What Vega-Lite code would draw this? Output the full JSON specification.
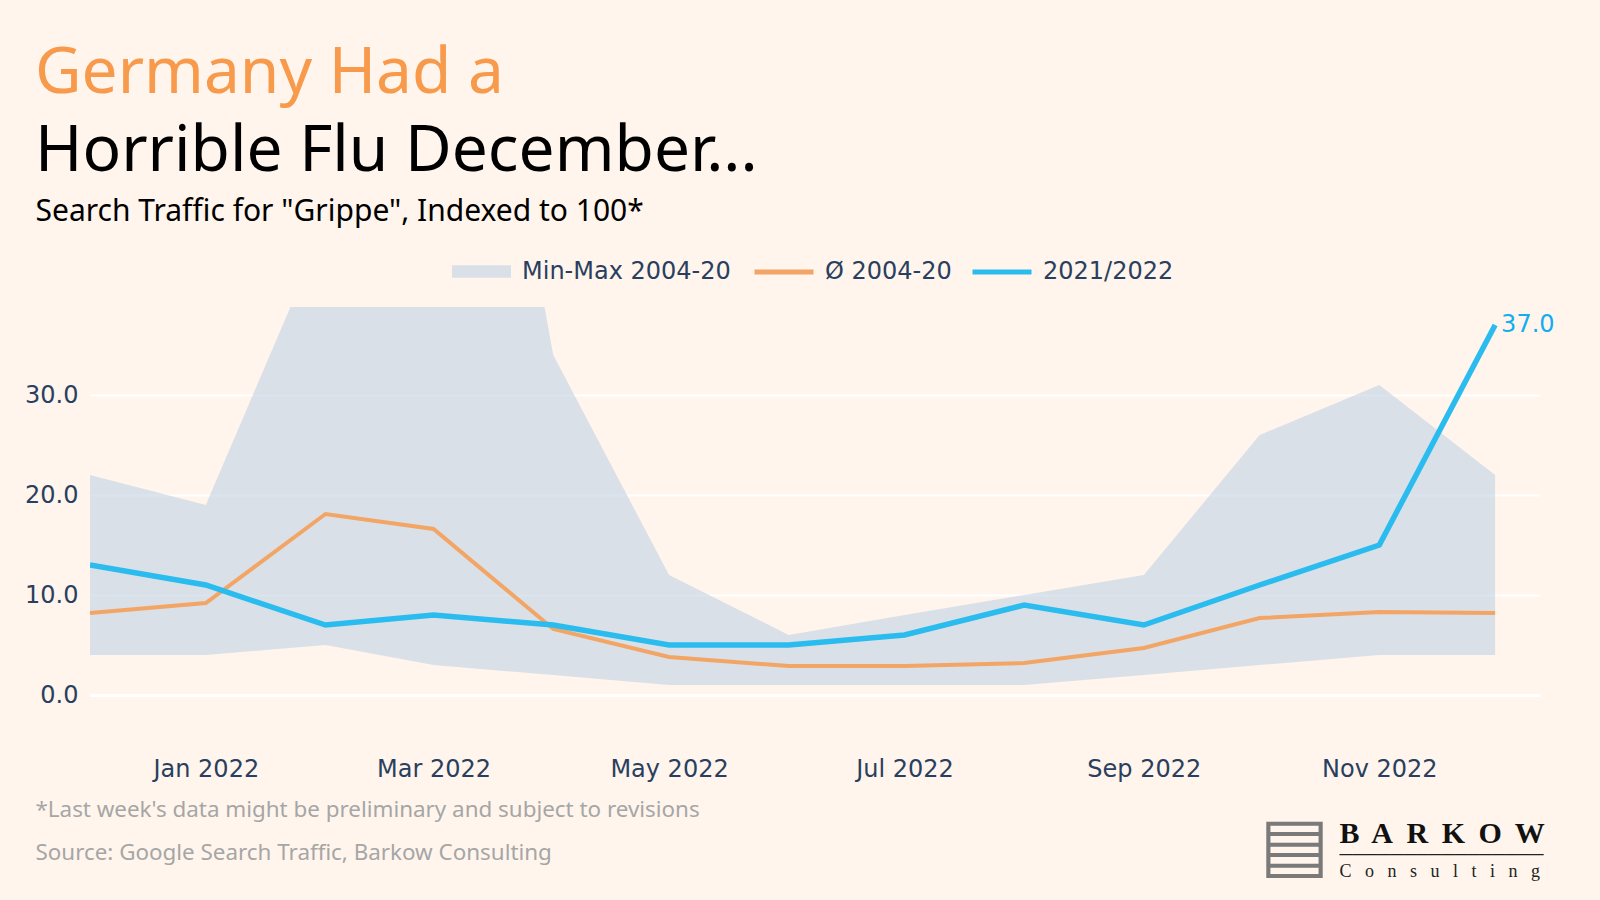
{
  "$schema": "https://vega.github.io/schema/vega-lite/v6.json",
  "width": 1450,
  "height": 438,
  "autosize": {"type": "none"},
  "padding": {"left": 90, "top": 307, "right": 60, "bottom": 155},
  "background": "#fff5ec",
  "config": {
    "view": {"stroke": null},
    "axis": {"domain": false, "ticks": false, "tickSize": 0}
  },
  "title": {
    "text": "Germany Had a",
    "subtitle": "Horrible Flu December...",
    "anchor": "start",
    "frame": "group",
    "orient": "top",
    "font": "Noto Sans",
    "fontSize": 64,
    "fontWeight": 400,
    "color": "#f79a4b",
    "subtitleFont": "Noto Sans",
    "subtitleFontSize": 64,
    "subtitleFontWeight": 400,
    "subtitleColor": "#000000",
    "subtitlePadding": 14,
    "dx": -55,
    "offset": 12
  },
  "data": {
    "values": [
      {"date": "2021-12-02", "min": 4, "max": 22, "avg": 8.2, "cur": 13},
      {"date": "2022-01-01", "min": 4, "max": 19, "avg": 9.2, "cur": 11},
      {"date": "2022-02-01", "min": 5, "max": 47, "avg": 18.1, "cur": 7},
      {"date": "2022-03-01", "min": 3, "max": 100, "avg": 16.6, "cur": 8},
      {"date": "2022-04-01", "min": 2, "max": 34, "avg": 6.6, "cur": 7},
      {"date": "2022-05-01", "min": 1, "max": 12, "avg": 3.8, "cur": 5},
      {"date": "2022-06-01", "min": 1, "max": 6, "avg": 2.9, "cur": 5},
      {"date": "2022-07-01", "min": 1, "max": 8, "avg": 2.9, "cur": 6},
      {"date": "2022-08-01", "min": 1, "max": 10, "avg": 3.2, "cur": 9},
      {"date": "2022-09-01", "min": 2, "max": 12, "avg": 4.7, "cur": 7},
      {"date": "2022-10-01", "min": 3, "max": 26, "avg": 7.7, "cur": 11},
      {"date": "2022-11-01", "min": 4, "max": 31, "avg": 8.3, "cur": 15},
      {"date": "2022-12-01", "min": 4, "max": 22, "avg": 8.2, "cur": 37}
    ]
  },
  "layer": [
    {
      "layer": [
        {
          "mark": {"type": "area", "clip": true, "opacity": 0.6},
          "encoding": {
            "x": {
              "field": "date", "type": "temporal",
              "scale": {"type": "utc", "domain": [1638403200000, 1670857200000]},
              "axis": {
                "orient": "bottom",
                "values": [1640995200000, 1646092800000, 1651363200000, 1656633600000, 1661990400000, 1667260800000],
                "labelExpr": "utcFormat(datum.value, '%b %Y')",
                "labelFont": "DejaVu Sans", "labelFontSize": 24, "labelColor": "#2a3f5f",
                "labelPadding": 12, "grid": false,
                "title": ["*Last week's data might be preliminary and subject to revisions", "Source: Google Search Traffic, Barkow Consulting"],
                "titleFont": "Noto Sans", "titleFontSize": 22.4, "titleFontWeight": 400, "titleColor": "#a6a6a6",
                "titleAnchor": "start", "titleAlign": "left", "titleBaseline": "alphabetic",
                "titleX": -55, "titleY": 71, "titleLineHeight": 43.5
              }
            },
            "y": {
              "field": "min", "type": "quantitative",
              "title": "Search Traffic for \"Grippe\", Indexed to 100*",
              "scale": {"domain": [-5, 38.8], "nice": false, "zero": false},
              "axis": {
                "values": [0, 10, 20, 30], "format": ".1f",
                "labelFont": "DejaVu Sans", "labelFontSize": 24, "labelColor": "#2a3f5f", "labelPadding": 12,
                "grid": true, "gridColor": "#ffffff", "gridOpacity": 1,
                "gridWidth": {"condition": {"test": "datum.value === 0", "value": 3}, "value": 2},
                "titleAngle": 0, "titleAlign": "left", "titleBaseline": "alphabetic",
                "titleX": -55, "titleY": -87,
                "titleFont": "Noto Sans", "titleFontSize": 30, "titleFontWeight": 400, "titleColor": "#000000"
              }
            },
            "y2": {"field": "max"},
            "fill": {
              "datum": "Min-Max 2004-20",
              "scale": {"domain": ["Min-Max 2004-20"], "range": ["#c2d2e5"]},
              "legend": {
                "orient": "none", "direction": "horizontal",
                "legendX": 362, "legendY": -65,
                "title": null,
                "symbolSize": 3481, "symbolType": "M-1,-0.21H1V0.21H-1Z",
                "symbolStrokeWidth": 0, "symbolOpacity": 0.6,
                "labelFont": "DejaVu Sans", "labelFontSize": 24, "labelColor": "#2a3f5f",
                "labelOffset": 11, "labelLimit": 0
              }
            }
          }
        },
        {
          "mark": {"type": "line", "strokeWidth": 4, "clip": true},
          "encoding": {
            "x": {"field": "date", "type": "temporal"},
            "y": {"field": "avg", "type": "quantitative", "title": "Search Traffic for \"Grippe\", Indexed to 100*"},
            "stroke": {
              "datum": "Ø 2004-20",
              "scale": {"domain": ["Ø 2004-20", "2021/2022"], "range": ["#f3a566", "#2bbcef"]},
              "legend": {
                "orient": "none", "direction": "horizontal",
                "legendX": 662, "legendY": -67,
                "title": null,
                "symbolSize": 3481, "symbolType": "stroke", "symbolStrokeWidth": 5,
                "labelFont": "DejaVu Sans", "labelFontSize": 24, "labelColor": "#2a3f5f",
                "labelOffset": 9, "labelLimit": 0, "columnPadding": 10
              }
            }
          }
        },
        {
          "mark": {"type": "line", "strokeWidth": 5.5, "clip": true},
          "encoding": {
            "x": {"field": "date", "type": "temporal"},
            "y": {"field": "cur", "type": "quantitative", "title": "Search Traffic for \"Grippe\", Indexed to 100*"},
            "stroke": {"datum": "2021/2022"}
          }
        },
        {
          "transform": [{"filter": {"field": "date", "equal": {"year": 2022, "month": 12, "date": 1, "utc": true}}}],
          "mark": {"type": "text", "align": "left", "baseline": "middle", "dx": 6, "font": "DejaVu Sans", "fontSize": 24, "color": "#12aef0"},
          "encoding": {
            "x": {"field": "date", "type": "temporal"},
            "y": {"field": "cur", "type": "quantitative", "title": "Search Traffic for \"Grippe\", Indexed to 100*"},
            "text": {"field": "cur", "type": "quantitative", "format": ".1f"}
          }
        }
      ]
    },
    {
      "mark": {"type": "point", "opacity": 0},
      "encoding": {
        "x": {
          "field": "date", "type": "temporal",
          "axis": {
            "orient": "bottom", "labels": false, "grid": false,
            "title": ["────────────────", "C\u2002 o\u2002 n\u2002 s\u2002 u\u2002 l\u2002 t\u2002 i\u2002 n\u2002 g"],
            "titleFont": "Liberation Serif", "titleFontSize": 18, "titleFontWeight": 400, "titleColor": "#222222",
            "titleAnchor": "start", "titleAlign": "left", "titleBaseline": "alphabetic",
            "titleX": 1249, "titleY": 114, "titleLineHeight": 17
          }
        },
        "y": {
          "field": "cur", "type": "quantitative",
          "axis": {
            "orient": "right", "labels": false, "grid": false,
            "title": "B\u2009 A\u2009 R\u2009 K\u2009 O\u2009 W",
            "titleFont": "Liberation Serif", "titleFontSize": 30, "titleFontWeight": 700, "titleColor": "#111111",
            "titleAngle": 0, "titleAlign": "left", "titleBaseline": "alphabetic",
            "titleX": -201, "titleY": 535
          }
        }
      }
    },
    {
      "mark": {"type": "point", "opacity": 0},
      "encoding": {
        "x": {"field": "date", "type": "temporal", "axis": null},
        "y": {
          "field": "avg", "type": "quantitative",
          "axis": {
            "orient": "right", "labels": false, "grid": false,
            "title": "▤",
            "titleFont": "DejaVu Sans", "titleFontSize": 74, "titleFontWeight": 400, "titleColor": "#7a7a7a",
            "titleAngle": 0, "titleAlign": "center", "titleBaseline": "middle",
            "titleX": -246, "titleY": 539
          }
        }
      }
    }
  ],
  "resolve": {"scale": {"y": "independent"}, "axis": {"x": "independent", "y": "independent"}}
}
